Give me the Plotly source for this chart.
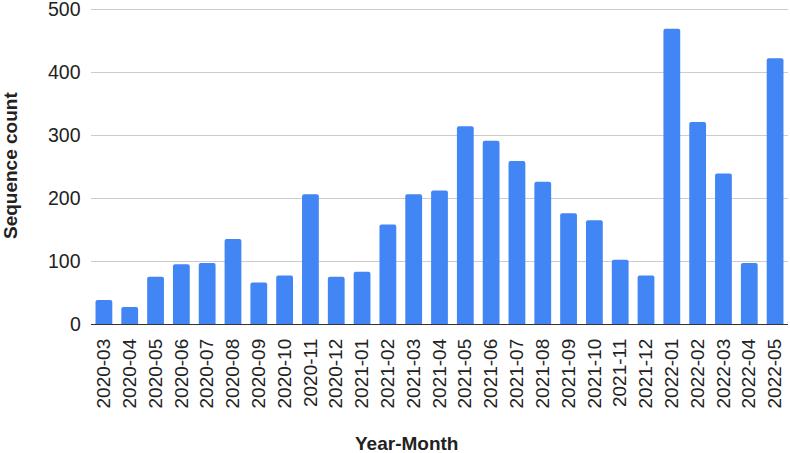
import plotly.graph_objects as go

months = [
    "2020-03", "2020-04", "2020-05", "2020-06", "2020-07", "2020-08", "2020-09",
    "2020-10", "2020-11", "2020-12", "2021-01", "2021-02", "2021-03", "2021-04",
    "2021-05", "2021-06", "2021-07", "2021-08", "2021-09", "2021-10", "2021-11",
    "2021-12", "2022-01", "2022-02", "2022-03", "2022-04", "2022-05",
]
counts = [
    38, 27, 75, 95, 97, 135, 66,
    77, 206, 75, 83, 158, 206, 212,
    314, 291, 259, 226, 176, 165, 102,
    77, 469, 321, 239, 97, 422,
]
y_ticks = [0, 100, 200, 300, 400, 500]

W, H = 790, 453
L, R, T, B = 91, 2, 8, 129

fig = go.Figure()
fig.add_trace(go.Bar(
    x=months, y=counts,
    marker=dict(color="#4285F4", cornerradius=2, line=dict(width=0)),
    hovertemplate="%{x}: %{y}<extra></extra>",
))

fig.update_layout(
    width=W, height=H,
    margin=dict(l=L, r=R, t=T, b=B),
    plot_bgcolor="white", paper_bgcolor="white",
    bargap=0.35,
    showlegend=False,
    font=dict(family="Liberation Sans, Arial, sans-serif", color="#222222"),
    xaxis=dict(
        type="category",
        tickangle=-90,
        tickfont=dict(size=19, color="#222222"),
        ticks="", showgrid=False,
        showline=True, linecolor="#333333", linewidth=1.3,
        ticklabelstandoff=6,
        automargin=False,
    ),
    yaxis=dict(
        range=[0, 502], tickvals=y_ticks,
        showticklabels=False,
        showgrid=True, gridcolor="#cccccc", gridwidth=1,
        zeroline=False, showline=False, ticks="",
        automargin=False,
    ),
    annotations=[
        dict(text="<b>Year-Month</b>", xref="paper", yref="paper",
             x=(406 - L) / (W - L - R), y=-(443 - (H - B)) / (H - T - B),
             xanchor="center", yanchor="middle", showarrow=False,
             font=dict(size=19, color="#222222")),
        dict(text="<b>Sequence count</b>", xref="paper", yref="paper",
             x=-(L - 10) / (W - L - R), y=0.5, textangle=-90,
             xanchor="center", yanchor="middle", showarrow=False,
             font=dict(size=19, color="#222222")),
    ],
)

# y tick labels as annotations so the top one is not dropped at the page edge
for v in y_ticks:
    fig.add_annotation(
        text=str(v), xref="paper", yref="y", x=0, y=v,
        xanchor="right", yanchor="middle", xshift=-8, showarrow=False,
        font=dict(size=19.5, color="#222222"),
    )

# the page body has a default 8px margin; drop it so the figure sits at 0,0
fig.write_html("out.html", config={"displayModeBar": False},
               post_script="document.body.style.margin='0';")
